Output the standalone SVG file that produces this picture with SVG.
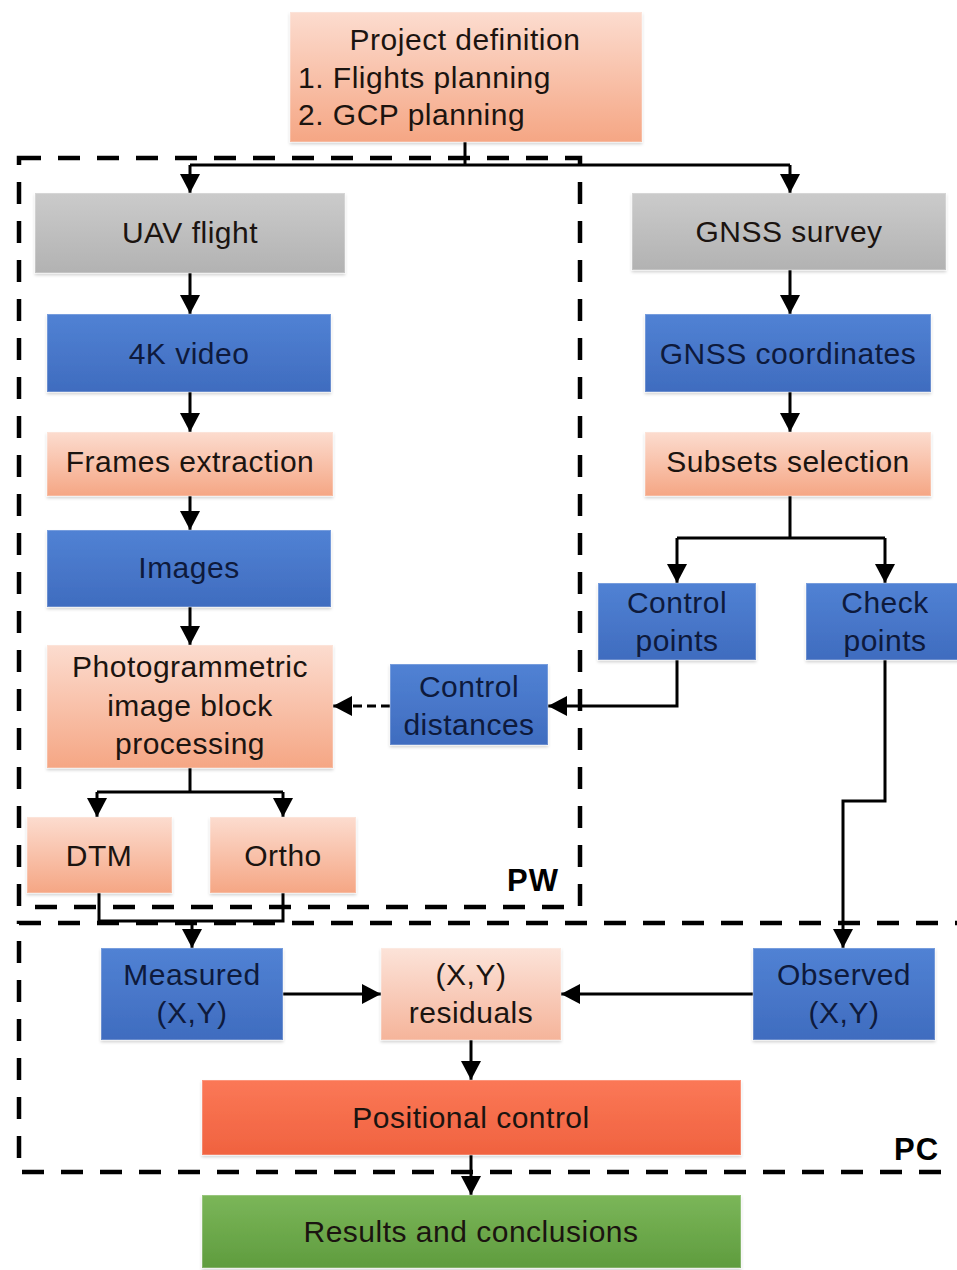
<svg xmlns="http://www.w3.org/2000/svg" width="957" height="1270" viewBox="0 0 957 1270">
<defs>
<linearGradient id="gPeach" x1="0" y1="0" x2="0" y2="1"><stop offset="0" stop-color="#fcdccf"/><stop offset="1" stop-color="#f5a684"/></linearGradient>
<linearGradient id="gPeachL" x1="0" y1="0" x2="0" y2="1"><stop offset="0" stop-color="#fce3d9"/><stop offset="1" stop-color="#f5b49a"/></linearGradient>
<linearGradient id="gBlue" x1="0" y1="0" x2="0" y2="1"><stop offset="0" stop-color="#5182d4"/><stop offset="1" stop-color="#3f6cbf"/></linearGradient>
<linearGradient id="gGray" x1="0" y1="0" x2="0" y2="1"><stop offset="0" stop-color="#cbcbcb"/><stop offset="1" stop-color="#b2b2b2"/></linearGradient>
<linearGradient id="gOrange" x1="0" y1="0" x2="0" y2="1"><stop offset="0" stop-color="#fb7857"/><stop offset="1" stop-color="#f0623f"/></linearGradient>
<linearGradient id="gGreen" x1="0" y1="0" x2="0" y2="1"><stop offset="0" stop-color="#7bb659"/><stop offset="1" stop-color="#5f9c3e"/></linearGradient>
<filter id="sh" x="-5%" y="-5%" width="110%" height="115%">
<feDropShadow dx="0" dy="2" stdDeviation="1.5" flood-color="#000" flood-opacity="0.18"/>
</filter>
<marker id="arr" markerUnits="userSpaceOnUse" markerWidth="22" markerHeight="22" viewBox="0 0 22 22" refX="19" refY="11" orient="auto">
<path d="M0,1 L19,11 L0,21 Z" fill="#000"/>
</marker>
</defs>
<style>
.box{stroke:#ffffff;stroke-opacity:0.22;stroke-width:2;filter:url(#sh)}
.peach{fill:url(#gPeach)}
.peachL{fill:url(#gPeachL)}
.blue{fill:url(#gBlue)}
.gray{fill:url(#gGray)}
.orange{fill:url(#gOrange)}
.green{fill:url(#gGreen)}
text{font-family:"Liberation Sans",Arial,sans-serif;font-size:30px;text-anchor:middle;letter-spacing:0.5px}
.dk{fill:#1b1410}
.nv{fill:#0e1a3c}
.lbl{font-family:"Liberation Sans",Arial,sans-serif;font-weight:bold;font-size:31px;fill:#000;text-anchor:start;letter-spacing:1px}
.ln{fill:none;stroke:#000;stroke-width:3}
.dash{fill:none;stroke:#000;stroke-width:4.5;stroke-dasharray:22 17}
</style>
<rect width="957" height="1270" fill="#fff"/>

<g id="regions">
<rect id="PW" class="dash" x="19" y="158" width="561" height="749"/>
<text class="lbl" x="507" y="891">PW</text>
<rect id="PC" class="dash" x="19" y="923" width="980" height="249"/>
<text class="lbl" x="894" y="1160">PC</text>
</g>

<g id="connectors">
<path class="ln" d="M465,142 V165"/>
<path class="ln" d="M190,165 H790"/>
<path class="ln" d="M190,165 V193" marker-end="url(#arr)"/>
<path class="ln" d="M790,165 V193" marker-end="url(#arr)"/>
<path class="ln" d="M190,273 V314" marker-end="url(#arr)"/>
<path class="ln" d="M190,392 V432" marker-end="url(#arr)"/>
<path class="ln" d="M190,496 V530" marker-end="url(#arr)"/>
<path class="ln" d="M190,607 V645" marker-end="url(#arr)"/>
<path class="ln" d="M790,270 V314" marker-end="url(#arr)"/>
<path class="ln" d="M790,392 V432" marker-end="url(#arr)"/>
<path class="ln" d="M790,496 V538 M677,538 H885"/>
<path class="ln" d="M677,538 V583" marker-end="url(#arr)"/>
<path class="ln" d="M885,538 V583" marker-end="url(#arr)"/>
<path class="ln" d="M677,660 V706 H548" marker-end="url(#arr)"/>
<path class="ln" d="M390,706 H350" stroke-dasharray="9 5"/>
<path class="ln" d="M352,706 H333" marker-end="url(#arr)"/>
<path class="ln" d="M885,660 V801 H843 V948" marker-end="url(#arr)"/>
<path class="ln" d="M190,768 V792 M97,792 H283"/>
<path class="ln" d="M97,792 V817" marker-end="url(#arr)"/>
<path class="ln" d="M283,792 V817" marker-end="url(#arr)"/>
<path class="ln" d="M99,893 V921 H283 V893"/>
<path class="ln" d="M192,921 V948" marker-end="url(#arr)"/>
<path class="ln" d="M283,994 H381" marker-end="url(#arr)"/>
<path class="ln" d="M753,994 H561" marker-end="url(#arr)"/>
<path class="ln" d="M471,1040 V1080" marker-end="url(#arr)"/>
<path class="ln" d="M471,1155 V1195" marker-end="url(#arr)"/>
</g>

<g id="project-definition">
<rect class="box peach" x="290" y="12" width="352" height="130"/>
<text class="dk" x="465" y="50">Project definition</text>
<text class="dk" x="298" y="88" style="text-anchor:start">1. Flights planning</text>
<text class="dk" x="298" y="125" style="text-anchor:start">2. GCP planning</text>
</g>
<g id="uav-flight"><rect class="box gray" x="35" y="193" width="310" height="80"/><text class="dk" x="190" y="243">UAV flight</text></g>
<g id="gnss-survey"><rect class="box gray" x="632" y="193" width="314" height="77"/><text class="dk" x="789" y="242">GNSS survey</text></g>
<g id="video"><rect class="box blue" x="47" y="314" width="284" height="78"/><text class="nv" x="189" y="364">4K video</text></g>
<g id="gnss-coordinates"><rect class="box blue" x="645" y="314" width="286" height="78"/><text class="nv" x="788" y="364">GNSS coordinates</text></g>
<g id="frames-extraction"><rect class="box peach" x="47" y="432" width="286" height="64"/><text class="dk" x="190" y="472">Frames extraction</text></g>
<g id="subsets-selection"><rect class="box peach" x="645" y="432" width="286" height="64"/><text class="dk" x="788" y="472">Subsets selection</text></g>
<g id="images"><rect class="box blue" x="47" y="530" width="284" height="77"/><text class="nv" x="189" y="578">Images</text></g>
<g id="control-points"><rect class="box blue" x="598" y="583" width="158" height="77"/><text class="nv" x="677" y="613">Control</text><text class="nv" x="677" y="651">points</text></g>
<g id="check-points"><rect class="box blue" x="806" y="583" width="160" height="77"/><text class="nv" x="885" y="613">Check</text><text class="nv" x="885" y="651">points</text></g>
<g id="photogrammetric"><rect class="box peach" x="47" y="645" width="286" height="123"/><text class="dk" x="190" y="677">Photogrammetric</text><text class="dk" x="190" y="716">image block</text><text class="dk" x="190" y="754">processing</text></g>
<g id="control-distances"><rect class="box blue" x="390" y="664" width="158" height="81"/><text class="nv" x="469" y="697">Control</text><text class="nv" x="469" y="735">distances</text></g>
<g id="dtm"><rect class="box peach" x="27" y="817" width="145" height="76"/><text class="dk" x="99" y="866">DTM</text></g>
<g id="ortho"><rect class="box peach" x="210" y="817" width="146" height="76"/><text class="dk" x="283" y="866">Ortho</text></g>
<g id="measured"><rect class="box blue" x="101" y="948" width="182" height="92"/><text class="nv" x="192" y="985">Measured</text><text class="nv" x="192" y="1023">(X,Y)</text></g>
<g id="residuals"><rect class="box peachL" x="381" y="948" width="180" height="92"/><text class="dk" x="471" y="985">(X,Y)</text><text class="dk" x="471" y="1023">residuals</text></g>
<g id="observed"><rect class="box blue" x="753" y="948" width="182" height="92"/><text class="nv" x="844" y="985">Observed</text><text class="nv" x="844" y="1023">(X,Y)</text></g>
<g id="positional-control"><rect class="box orange" x="202" y="1080" width="539" height="75"/><text class="dk" x="471" y="1128">Positional control</text></g>
<g id="results"><rect class="box green" x="202" y="1195" width="539" height="73"/><text class="dk" x="471" y="1242">Results and conclusions</text></g>
</svg>
